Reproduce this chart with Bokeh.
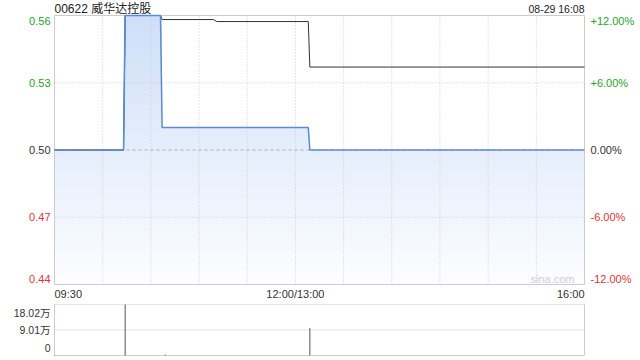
import numpy as np
from bokeh.plotting import figure
from bokeh.models import Label, Range1d
from bokeh.embed import file_html
from bokeh.resources import INLINE

# ---------------- data ----------------
title_text = "00622 威华达控股"
stamp_text = "08-29 16:08"
prev_close = 0.50

# x = trading minutes since 09:30 (lunch break removed, 330 minutes in total)
price_min = [0, 43, 44, 66, 67, 158, 159, 330]
price_val = [0.50, 0.50, 0.56, 0.56, 0.51, 0.51, 0.50, 0.50]

avg_min = [0, 43, 44, 66, 67, 99, 101, 158, 159, 330]
avg_val = [0.50, 0.50, 0.56, 0.56, 0.5582, 0.5582, 0.5573, 0.5573, 0.537, 0.537]

vol_min = [44, 69, 159]
vol_val = [18.02, 0.3, 9.7]          # 万股

price_ticks = [0.44, 0.47, 0.50, 0.53, 0.56]
pct_labels = ["-12.00%", "-6.00%", "0.00%", "+6.00%", "+12.00%"]
time_ticks = [0, 150, 330]
time_labels = ["09:30", "12:00/13:00", "16:00"]
grid_minutes = [30, 60, 90, 120, 150, 180, 210, 240, 270, 300]
vol_ticks = [0, 9.01, 18.02]
vol_labels = ["0", "9.01万", "18.02万"]

# ---------------- styling / layout ----------------
FONT = "Liberation Sans, Noto Sans CJK SC"
GREEN = "#22a822"
RED = "#e83333"
DARK = "#333333"
GRID = "#cccccc"
X0, X1 = 0, 330          # session minutes
Y0, Y1 = 0.44, 0.56      # price window
W, H = 640, 360
# pixel placement of the two panels inside the canvas
PL, PR = 54, 584         # left / right of both panels
PT, PB = 15, 284         # price panel top / bottom
VT, VB = 304, 355        # volume panel top / bottom

ppx = (X1 - X0) / (PR - PL)
ppy = (Y1 - Y0) / (PB - PT)
vpy = vol_ticks[2] / (VB - VT)

p = figure(width=W, height=H,
           x_range=Range1d(X0 - PL * ppx, X1 + (W - PR) * ppx),
           y_range=Range1d(Y0 - (H - PB) * ppy, Y1 + PT * ppy),
           output_backend="svg", toolbar_location=None,
           x_axis_location=None, y_axis_location=None, min_border=0)
p.extra_y_ranges = {"vol": Range1d(0 - (H - VB) * vpy, vol_ticks[2] + VT * vpy)}
p.grid.visible = False
p.outline_line_color = None
p.background_fill_color = "white"
p.border_fill_color = "white"

# ---- price panel ----
# vertical gradient below the price line: opaque layers, each one painted from
# its own level up to the price line, so upper layers overwrite lower ones
pv = np.array(price_val)
n_layers = 40
levels = np.linspace(Y0, Y1, n_layers + 1)[:-1]
c_bot = np.array([252, 253, 255])
c_top = np.array([206, 223, 248])
for i, lv in enumerate(levels):
    f = (i + 0.5) / n_layers
    r, g, b = (c_bot * (1 - f) + c_top * f).round().astype(int)
    p.varea(x=price_min, y1=lv, y2=np.maximum(pv, lv),
            fill_color=f"#{r:02x}{g:02x}{b:02x}", fill_alpha=1.0)

# grid lines
p.segment(x0=grid_minutes, y0=Y0, x1=grid_minutes, y1=Y1, line_color=GRID, line_dash="1 2")
p.segment(x0=X0, y0=[0.47, 0.53], x1=X1, y1=[0.47, 0.53], line_color=GRID, line_dash="1 2")
p.segment(x0=X0, y0=prev_close, x1=X1, y1=prev_close, line_color="#b0b0b0", line_dash="3 3")

# panel border
p.quad(left=X0, right=X1, bottom=Y0, top=Y1, fill_color=None, line_color=GRID)

p.line(avg_min, avg_val, line_color="#333333", line_width=1)
p.line(price_min, price_val, line_color="#5b8ad6", line_width=1.5)

# left price labels and right percent labels
for t, pl in zip(price_ticks, pct_labels):
    col = GREEN if t > prev_close else (RED if t < prev_close else DARK)
    off = -5 if t == Y1 else (6 if t == Y0 else 0)
    p.add_layout(Label(x=X0, y=t, text=f"{t:.2f}", x_offset=-4, y_offset=off,
                       text_align="right", text_baseline="middle",
                       text_font=FONT, text_font_size="11px", text_color=col))
    p.add_layout(Label(x=X1, y=t, text=pl, x_offset=6, y_offset=off,
                       text_align="left", text_baseline="middle",
                       text_font=FONT, text_font_size="11px", text_color=col))

# time labels
for t, tl, al in zip(time_ticks, time_labels, ["left", "center", "right"]):
    p.add_layout(Label(x=t, y=Y0, text=tl, y_offset=-9, text_align=al,
                       text_baseline="middle", text_font=FONT,
                       text_font_size="11px", text_color=DARK))

# header
p.add_layout(Label(x=X0, y=Y1, text=title_text, y_offset=7, text_align="left",
                   text_baseline="middle", text_font=FONT, text_font_size="12px",
                   text_color="#222222"))
p.add_layout(Label(x=X1, y=Y1, text=stamp_text, y_offset=7, text_align="right",
                   text_baseline="middle", text_font=FONT, text_font_size="10.5px",
                   text_color="#222222"))
p.add_layout(Label(x=X1, y=Y0, text="sina.com", x_offset=-10, y_offset=6,
                   text_align="right", text_baseline="middle", text_font=FONT,
                   text_font_size="11px", text_color="#cfcfcf"))

# ---- volume panel ----
p.segment(x0=[X0, X1], y0=0, x1=[X0, X1], y1=vol_ticks[2], line_color=GRID,
          y_range_name="vol")
p.segment(x0=X0, y0=vol_ticks[1:], x1=X1, y1=vol_ticks[1:], line_color=GRID,
          line_dash="1 1", y_range_name="vol")
p.segment(x0=X0, y0=0, x1=X1, y1=0, line_color="#999999", line_dash="1 1",
          y_range_name="vol")
p.segment(x0=vol_min, y0=0, x1=vol_min, y1=vol_val, line_color="#555555",
          line_width=1, y_range_name="vol")

for t, tl in zip(vol_ticks, vol_labels):
    off = -8 if t == vol_ticks[2] else (8 if t == 0 else 0)
    p.add_layout(Label(x=X0, y=t, text=tl, x_offset=-4, y_offset=off,
                       text_align="right", text_baseline="middle", y_range_name="vol",
                       text_font=FONT, text_font_size="10.5px", text_color=DARK))

open("out.html", "w").write(file_html(p, INLINE))
